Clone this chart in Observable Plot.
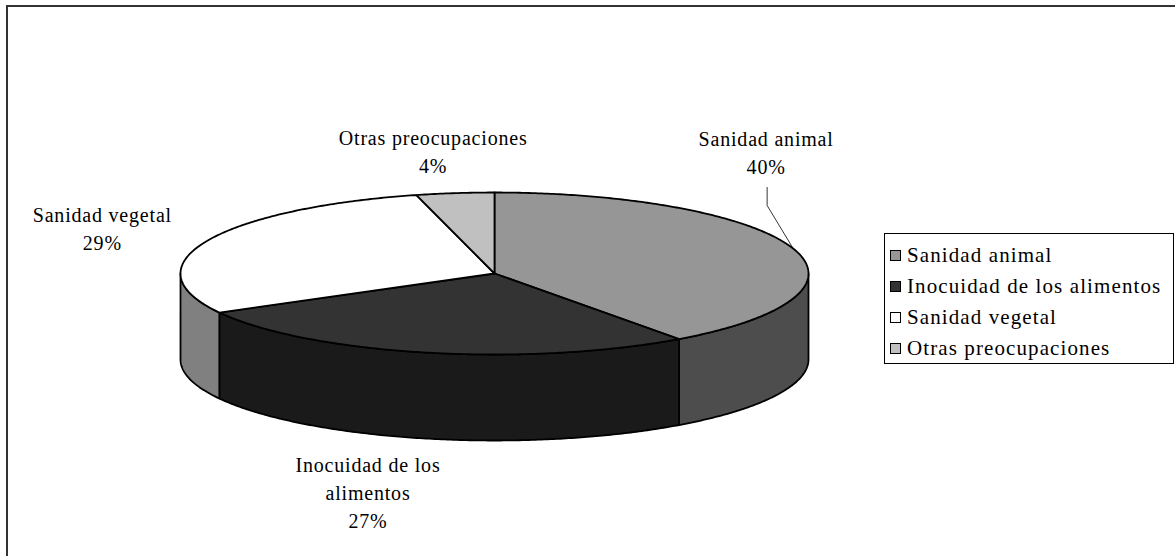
<!DOCTYPE html>
<html><head><meta charset="utf-8">
<script src="https://cdn.jsdelivr.net/npm/d3@7"></script>
<script src="https://cdn.jsdelivr.net/npm/@observablehq/plot@0.6"></script>
<style>
body{margin:0;background:#fff;}
#wrap{position:relative;width:1175px;height:556px;overflow:hidden;font-family:"Liberation Serif","Times New Roman",serif;}
#frame{position:absolute;left:6px;top:5px;width:1300px;height:700px;border-left:2px solid #333;border-top:2px solid #333;pointer-events:none;}
#chart{position:absolute;left:0;top:0;}
#legend{position:absolute;left:884px;top:233px;width:290px;height:131px;border:1px solid #000;box-sizing:border-box;background:#fff;padding:6px 0 0 5px;}
.item{display:flex;align-items:center;height:31px;font-size:21px;letter-spacing:1.1px;color:#000;white-space:nowrap;}
.sw{width:9px;height:9px;border:1px solid #000;margin-right:6px;flex:none;}
</style>
</head><body>
<div id="wrap"><div id="chart"></div><div id="legend"></div><div id="frame"></div></div>
<script>
// ---- data ----
const categories = ["Sanidad animal","Inocuidad de los alimentos","Sanidad vegetal","Otras preocupaciones"];
const values = [40, 27, 29, 4];
const labelNames = ["Sanidad animal","Inocuidad de los\nalimentos","Sanidad vegetal","Otras preocupaciones"];
const topColors = ["#969696","#333333","#ffffff","#c0c0c0"];
const sideColors = ["#4d4d4d","#1a1a1a","#808080","#606060"];

// ---- layout (pixels) ----
const W = 1175, H = 556;
const CX = 494, CY = 273, RX = 314, RY = 81, DEPTH = 86;
const labelOffsets = [[-27,-97],[-58,138],[-104,-14],[-22,-43]];
const tilt = RY / RX, depth = DEPTH / RX;

const arcs = d3.pie().sort(null).value(d => d)(values);
const px = a => Math.sin(a);
const py = a => -tilt * Math.cos(a);
function angles(a0, a1) {
  const n = Math.max(2, Math.ceil((a1 - a0) / 0.01));
  return d3.range(n + 1).map(i => a0 + (a1 - a0) * i / n);
}

const sideRows = [];
arcs.forEach((s, i) => {
  const a0 = Math.max(s.startAngle, Math.PI / 2), a1 = Math.min(s.endAngle, 3 * Math.PI / 2);
  if (a1 <= a0) return;
  const top = angles(a0, a1).map(a => ({x: px(a), y: py(a)}));
  const bot = angles(a0, a1).reverse().map(a => ({x: px(a), y: py(a) + depth}));
  [...top, ...bot].forEach(p => sideRows.push({id: "s" + i, fill: sideColors[i], ...p}));
});
const topRows = [];
arcs.forEach((s, i) => {
  topRows.push({id: "t" + i, fill: topColors[i], x: 0, y: 0});
  angles(s.startAngle, s.endAngle).forEach(a => topRows.push({id: "t" + i, fill: topColors[i], x: px(a), y: py(a)}));
});

const labels = arcs.map((s, i) => {
  const m = (s.startAngle + s.endAngle) / 2;
  const pct = Math.round(100 * s.value / d3.sum(values));
  return {ax: px(m), ay: py(m), x: px(m) + labelOffsets[i][0] / RX, y: py(m) + labelOffsets[i][1] / RX,
          text: labelNames[i] + "\n" + pct + "%"};
});
const L0 = labels[0];
const leader = [
  {x: L0.x + 1 / RX, y: L0.y + 36 / RX},
  {x: L0.x + 1 / RX, y: L0.y + 54 / RX},
  {x: L0.ax, y: L0.ay}
];

const chart = Plot.plot({
  width: W, height: H, margin: 0,
  x: {domain: [-CX / RX, (W - CX) / RX], range: [0, W], axis: null},
  y: {domain: [-CY / RX, (H - CY) / RX], range: [0, H], axis: null},
  color: {type: "identity"},
  style: {background: "transparent", overflow: "visible"},
  marks: [
    Plot.line(sideRows, {x: "x", y: "y", z: "id", fill: "fill", stroke: "#000", strokeWidth: 1.8, curve: "linear-closed", strokeLinejoin: "round"}),
    Plot.line(topRows, {x: "x", y: "y", z: "id", fill: "fill", stroke: "#000", strokeWidth: 1.8, curve: "linear-closed", strokeLinejoin: "round"}),
    Plot.line(leader, {x: "x", y: "y", stroke: "#000", strokeWidth: 0.8}),
    Plot.text(labels, {x: "x", y: "y", text: "text", fontSize: 20, lineHeight: 1.4, fill: "#000",
      fontFamily: "Liberation Serif, Times New Roman, serif", textAnchor: "middle", lineAnchor: "middle"})
  ]
});
chart.querySelectorAll("text").forEach(t => t.style.letterSpacing = "0.8px");
document.getElementById("chart").appendChild(chart);

const legend = document.getElementById("legend");
categories.forEach((c, i) => {
  const it = document.createElement("div"); it.className = "item";
  const sw = document.createElement("span"); sw.className = "sw"; sw.style.background = topColors[i];
  it.appendChild(sw); it.appendChild(document.createTextNode(c));
  legend.appendChild(it);
});
</script>
</body></html>
